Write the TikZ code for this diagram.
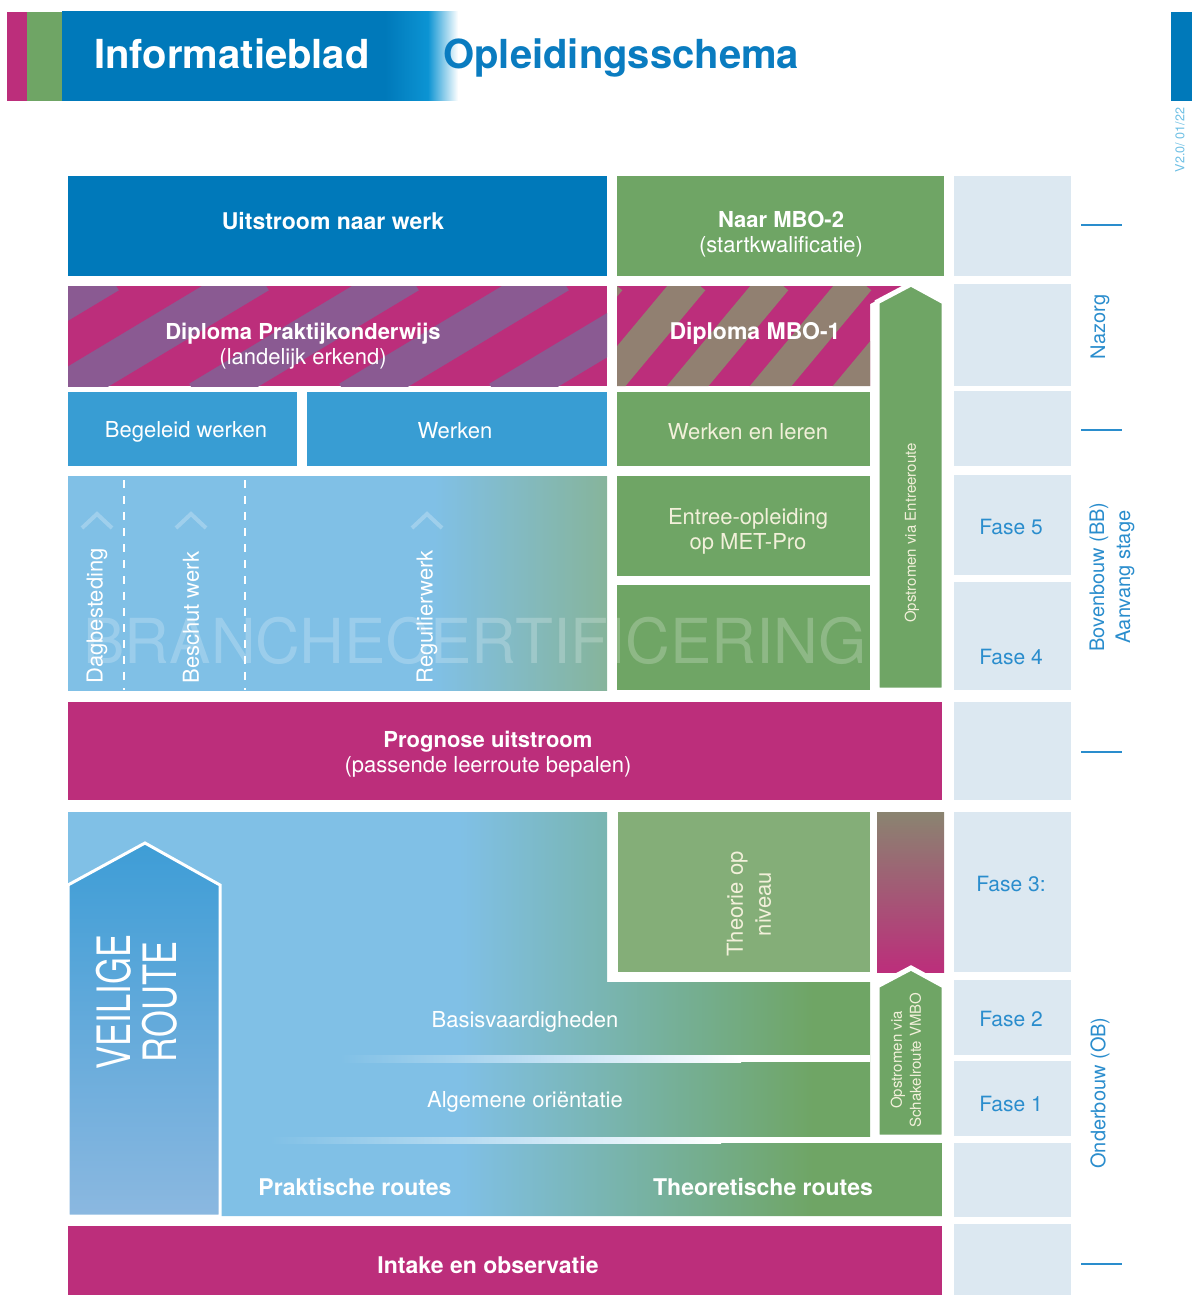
\documentclass[tikz,border=0pt]{standalone}
\usepackage{fontspec}
\setmainfont{TeX Gyre Heros}
\usepackage{tikz}
\usetikzlibrary{calc}

\definecolor{darkblue}{HTML}{0079BA}
\definecolor{brightblue}{HTML}{0C94D3}
\definecolor{midblue}{HTML}{389DD3}
\definecolor{lightblue}{HTML}{80C0E6}
\definecolor{mgreen}{HTML}{6FA565}
\definecolor{lgreen}{HTML}{84AE78}
\definecolor{seagreen}{HTML}{86B49B}
\definecolor{pmagenta}{HTML}{BC2E7B}
\definecolor{ppurple}{HTML}{8A5A92}
\definecolor{taupe}{HTML}{918071}
\definecolor{olive}{HTML}{8A8470}
\definecolor{phasebg}{HTML}{DCE8F1}
\definecolor{fasetext}{HTML}{2A8DCD}
\definecolor{titleblue}{HTML}{0A7CC0}
\definecolor{arrowtop}{HTML}{3E9DD6}
\definecolor{arrowbot}{HTML}{8BB8E0}
\definecolor{creamtext}{HTML}{F2F0DA}

\pgfdeclarehorizontalshading{headfade}{100bp}{color(0bp)=(darkblue); color(65.8bp)=(darkblue); color(71.2bp)=(brightblue); color(75bp)=(white); color(100bp)=(white)}
\pgfdeclarehorizontalshading{rowfade}{100bp}{color(0bp)=(lightblue); color(59bp)=(lightblue); color(75bp)=(seagreen); color(100bp)=(seagreen)}
\pgfdeclarehorizontalshading{lowfade}{100bp}{color(0bp)=(lightblue); color(47.4bp)=(lightblue); color(67.6bp)=(mgreen); color(100bp)=(mgreen)}

\tikzset{
  txt/.style={text=white, inner sep=0pt, align=center, font=\fontsize{11}{12.5}\selectfont},
  txtbold/.style={txt, font=\fontsize{11.5}{12.5}\selectfont\bfseries},
  oncream/.style={text=creamtext},
  fase/.style={text=fasetext, inner sep=0pt, font=\fontsize{10.5}{12}\selectfont},
  side/.style={text=fasetext, inner sep=0pt, rotate=90, align=center, font=\fontsize{10}{13}\selectfont},
  vert/.style={txt, rotate=90},
  tiny/.style={txt, rotate=90, font=\fontsize{7.5}{9.5}\selectfont},
  chevron/.style={white, opacity=0.25, line width=2pt},
  routearrow/.style={fill=mgreen, draw=white, line width=2.5pt},
  tick/.style={fasetext, line width=1pt}
}

\begin{document}
\begin{tikzpicture}[x=0.5pt,y=-0.5pt]
\useasboundingbox (0,0) rectangle (1192,1295);

\fill[pmagenta] (7,12) rectangle (27,101);
\fill[mgreen] (27,12) rectangle (62,101);
\shade[shading=headfade] (62,12) rectangle (458,101);
\fill[darkblue] (1171,12) rectangle (1192,101);

\node[anchor=base west, inner sep=0pt, text=white, font=\fontsize{20}{22}\selectfont\bfseries] (title) at (94,69) {Informatieblad};
\node[anchor=base west, inner sep=0pt, text=titleblue, font=\fontsize{20}{22}\selectfont\bfseries] (subtitle) at (443,69) {Opleidingsschema};
\node[rotate=90, inner sep=0pt, text=brightblue!60, font=\fontsize{6.3}{7}\selectfont] (version) at (1180,140) {V2.0/ 01/22};

\foreach \ya/\yb in {176/276,284/386,391/466,475/575,582/690,702/800,812/972,980/1055,1061/1136,1143/1217,1224/1300}
  \fill[phasebg] (954,\ya) rectangle (1071,\yb);

\fill[darkblue] (68,176) rectangle (607,276);
\fill[mgreen] (617,176) rectangle (944,276);
\node[txtbold] (uitstroom) at (333,221) {Uitstroom naar werk};
\node[txt] (mbotwee) at (781,234) {\textbf{Naar MBO-2}\\(startkwalificatie)};

\begin{scope}
\clip (68,286) rectangle (607,386);
\fill[pmagenta] (68,286) rectangle (607,386);
\foreach \s in {-251,-101,...,649}
  \draw[ppurple, line width=19pt] (\s,400) -- ++(210,-126);
\end{scope}

\begin{scope}
\clip (617,286) -- (905,286) -- (870,304) -- (870,386) -- (617,386) -- cycle;
\fill[pmagenta] (617,286) rectangle (905,386);
\foreach \s in {427,510,...,925}
  \draw[taupe, line width=16pt] (\s,400) -- ++(100,-120);
\end{scope}

\node[txt] (diplomapro) at (303,346) {\textbf{Diploma Praktijkonderwijs}\\(landelijk erkend)};
\node[txtbold] (diplomambo) at (755,333) {Diploma MBO-1};

\fill[midblue] (68,392) rectangle (297,466);
\fill[midblue] (307,392) rectangle (607,466);
\fill[mgreen] (617,392) rectangle (870,466);
\node[txt] (begeleid) at (186,432) {Begeleid werken};
\node[txt] (werken) at (455,431) {Werken};
\node[txt, oncream] (werkenleren) at (748,432) {Werken en leren};

\shade[shading=rowfade] (68,476) rectangle (607,690);
\fill[mgreen] (617,476) rectangle (870,576);
\fill[mgreen] (617,585) rectangle (870,690);
\node[txt, oncream] (entree) at (748,531) {Entree-opleiding\\op MET-Pro};

\draw[white, line width=1pt, dash pattern=on 4pt off 4pt] (124,480) -- (124,690);
\draw[white, line width=1pt, dash pattern=on 4pt off 4pt] (245,480) -- (245,690);
\foreach \cx in {97,191,427}
  \draw[chevron] (\cx-15,528) -- (\cx,514) -- (\cx+15,528);

\node[vert, anchor=west] (dagbest) at (97,684) {Dagbesteding};
\node[vert, anchor=west] (beschut) at (191,684) {Beschut werk};
\node[vert, anchor=west] (regulier) at (427,684) {Reguilierwerk};
\node[inner sep=0pt, text=white, text opacity=0.22, font=\fontsize{31}{31}\selectfont] (branche) at (475,641) {BRANCHECERTIFICERING};

\filldraw[routearrow] (877,690) -- (877,302) -- (911,284) -- (944,302) -- (944,690) -- cycle;
\node[tiny, oncream] (entreeroute) at (912,533) {Opstromen via Entreeroute};

\fill[pmagenta] (68,702) rectangle (942,800);
\node[txt] (prognose) at (488,754) {\textbf{Prognose uitstroom}\\(passende leerroute bepalen)};

\begin{scope}
\clip (68,812) -- (607,812) -- (607,982) -- (870,982) -- (870,1143) -- (942,1143) -- (942,1216) -- (68,1216) -- cycle;
\shade[shading=lowfade] (68,812) rectangle (942,1216);
\end{scope}

\shade[left color=lightblue, right color=white] (340,1055) rectangle (741,1062);
\fill[white] (740,1055) rectangle (870,1062);
\shade[left color=lightblue, right color=white] (270,1137) rectangle (721,1143);
\fill[white] (720,1137) rectangle (942,1143);

\fill[lgreen] (618,812) rectangle (870,972);
\node[vert, oncream, font=\fontsize{11}{14}\selectfont] (theorie) at (749,904) {Theorie op\\niveau};

\shade[top color=olive, bottom color=pmagenta] (877,812) rectangle (944,972);
\filldraw[routearrow] (877,1137) -- (877,986) -- (911,968) -- (944,986) -- (944,1137) -- cycle;
\node[tiny, oncream] (schakel) at (906,1060) {Opstromen via\\Schakelroute VMBO};

\shadedraw[top color=arrowtop, bottom color=arrowbot, draw=white, line width=1.5pt] (68,1216) -- (68,885) -- (145,843) -- (220,885) -- (220,1216) -- cycle;
\node[vert, font=\fontsize{23}{18.5}\selectfont] (veilig) at (142,1002) {\scalebox{0.75}[1]{\begin{tabular}{@{}c@{}}VEILIGE\\ROUTE\end{tabular}}};

\node[txt] (basis) at (525,1022) {Basisvaardigheden};
\node[txt] (orient) at (525,1102) {Algemene oriëntatie};
\node[txtbold] (praktisch) at (355,1187) {Praktische routes};
\node[txtbold] (theoretisch) at (763,1187) {Theoretische routes};

\fill[pmagenta] (68,1226) rectangle (942,1300);
\node[txtbold] (intake) at (488,1265) {Intake en observatie};

\node[fase] (fasevijf) at (1011,527) {Fase 5};
\node[fase] (fasevier) at (1011,657) {Fase 4};
\node[fase] (fasedrie) at (1011,884) {Fase 3:};
\node[fase] (fasetwee) at (1011,1019) {Fase 2};
\node[fase] (faseeen) at (1011,1104) {Fase 1};

\foreach \ty in {225,430,752,1264}
  \draw[tick] (1081,\ty) -- (1122,\ty);
\node[side] (nazorg) at (1100,327) {Nazorg};
\node[side] (bovenbouw) at (1112,577) {Bovenbouw (BB)\\Aanvang stage};
\node[side] (onderbouw) at (1100,1093) {Onderbouw (OB)};

\end{tikzpicture}
\end{document}
